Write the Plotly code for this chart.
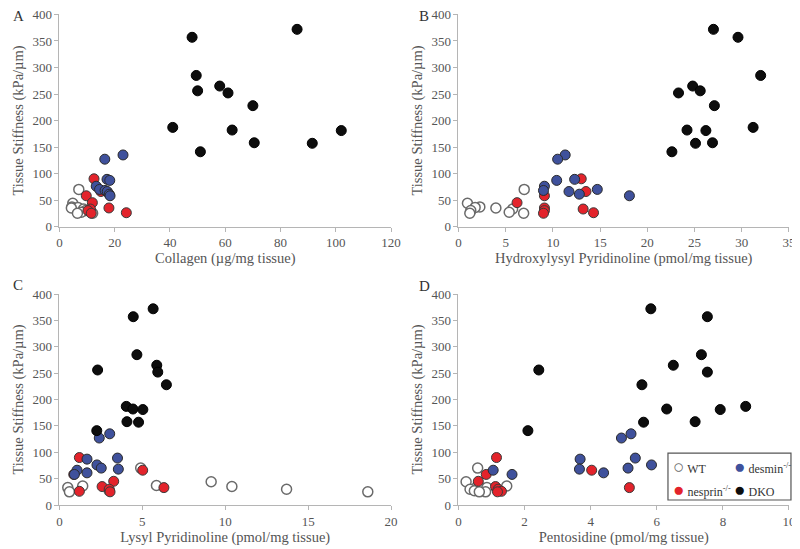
import plotly.graph_objects as go

# Rigidez (kPa/um) compartilhada pelos quatro paineis
wt_y = [70, 44, 37, 36, 35, 33, 30, 27, 25, 25]
nesprin_y = [90, 66, 58, 45, 35, 33, 30, 26, 25]
desmin_y = [135, 127, 89, 87, 76, 70, 68, 66, 61, 58]
dko_y = [372, 357, 285, 265, 256, 252, 228, 187, 182, 181, 158, 157, 141]

# A - Colageno (ug/mg tissue)
wt_a = [7.0, 4.8, 4.5, 6.7, 4.3, 8.7, 9.5, 7.9, 12.0, 6.5]
nesprin_a = [12.5, 15.0, 9.7, 11.9, 17.9, 11.2, 10.3, 24.2, 11.5]
desmin_a = [23.0, 16.4, 17.2, 18.2, 13.3, 14.5, 16.5, 17.3, 18.0, 18.3]
dko_a = [86, 48, 49.5, 58, 50, 61, 70, 41, 62.5, 102, 70.5, 91.5, 51]

# B - Hydroxylysyl Pyridinoline (pmol/mg tissue)
wt_b = [6.96, 0.95, 2.26, 1.76, 3.96, 5.73, 1.3, 5.37, 6.9, 1.2]
nesprin_b = [13.0, 13.5, 9.1, 6.2, 9.1, 13.2, 9.1, 14.3, 9.0]
desmin_b = [11.3, 10.5, 12.3, 10.4, 9.1, 14.7, 9.0, 11.7, 12.8, 18.1]
dko_b = [27, 29.6, 32, 24.8, 25.6, 23.3, 27.1, 31.2, 24.2, 26.2, 26.9, 25.1, 22.6]

# C - Lysyl Pyridinoline (pmol/mg tissue)
wt_c = [4.9, 9.15, 5.85, 1.4, 10.4, 0.5, 13.7, 3.0, 0.6, 18.6]
nesprin_c = [1.2, 5.02, 0.86, 3.27, 2.57, 6.3, 3.0, 1.2, 3.05]
desmin_c = [3.03, 2.4, 3.5, 1.66, 2.26, 2.52, 3.55, 1.06, 1.66, 0.9]
dko_c = [5.65, 4.45, 4.67, 5.87, 2.3, 5.93, 6.45, 4.03, 4.43, 5.03, 4.07, 4.77, 2.25]

# D - Pentosidine (pmol/mg tissue)
wt_d = [0.58, 0.23, 0.58, 1.46, 0.63, 0.86, 0.35, 0.48, 0.82, 0.63]
nesprin_d = [1.15, 4.03, 0.84, 0.6, 1.12, 5.17, 1.2, 1.3, 1.18]
desmin_d = [5.22, 4.93, 5.35, 3.68, 5.84, 5.13, 3.66, 1.05, 4.39, 1.62]
dko_d = [5.82, 7.53, 7.35, 6.5, 2.43, 7.53, 5.55, 8.69, 6.3, 7.92, 7.16, 5.6, 2.1]

paineis = [
    ("A", "Collagen (µg/mg tissue)", 120, 20, wt_a, nesprin_a, desmin_a, dko_a),
    ("B", "Hydroxylysyl Pyridinoline (pmol/mg tissue)", 35, 5, wt_b, nesprin_b, desmin_b, dko_b),
    ("C", "Lysyl Pyridinoline (pmol/mg tissue)", 20, 5, wt_c, nesprin_c, desmin_c, dko_c),
    ("D", "Pentosidine (pmol/mg tissue)", 10, 2, wt_d, nesprin_d, desmin_d, dko_d),
]

# a pagina html tem 8px de margem no body -> figura 792x541
LARGURA, ALTURA = 792, 541
dom_x = [[0.065, 0.4836], [0.5688, 0.9861], [0.065, 0.4836], [0.5688, 0.9861]]
dom_y = [[0.5961, 0.988], [0.5961, 0.988], [0.0813, 0.4713], [0.0813, 0.4713]]
pos_letra = [(0.004, 0.986), (0.5165, 0.986), (0.004, 0.488), (0.5165, 0.486)]

# nome, rigidez, cor, borda
grupos = [
    ("WT", wt_y, "white", "#6a6a6a"),
    ("nesprin<sup>-/-</sup>", nesprin_y, "#e3232b", "#3a3a3a"),
    ("desmin<sup>-/-</sup>", desmin_y, "#3f519c", "#2a2a2a"),
    ("DKO", dko_y, "#0d0d0d", "#000000"),
]

FONTE = "Liberation Serif, Times New Roman, serif"
CINZA = "#555555"
fig = go.Figure()
layout = {}
anotacoes = []

for i, (letra, titulo_x, xmax, passo, wx, nx, dx, kx) in enumerate(paineis):
    sufixo = "" if i == 0 else str(i + 1)
    xs = {"WT": wx, "desmin<sup>-/-</sup>": dx, "nesprin<sup>-/-</sup>": nx, "DKO": kx}
    for nome, ys, cor, borda in grupos:
        fig.add_trace(go.Scatter(
            x=xs[nome], y=ys,
            mode="markers",
            name=nome,
            showlegend=False,
            xaxis="x" + sufixo, yaxis="y" + sufixo,
            marker=dict(size=10, color=cor,
                        line=dict(color=borda, width=1.5 if nome == "WT" else 1)),
        ))
    eixo_comum = dict(
        showgrid=False, zeroline=False, automargin=False,
        showline=True, linecolor="#b5b5b5", linewidth=1,
        ticks="outside", ticklen=4, tickcolor="#b5b5b5",
        ticklabeloverflow="allow",
        tickfont=dict(family=FONTE, size=13, color=CINZA),
    )
    layout["xaxis" + sufixo] = dict(
        eixo_comum,
        domain=dom_x[i], anchor="y" + sufixo,
        range=[0, xmax], dtick=passo, tick0=0,
        title=dict(text=titulo_x, font=dict(family=FONTE, size=14.5, color=CINZA),
                   standoff=2),
    )
    layout["yaxis" + sufixo] = dict(
        eixo_comum,
        domain=dom_y[i], anchor="x" + sufixo,
        range=[0, 400], dtick=50,
        title=dict(text="Tissue Stiffness (kPa/µm)",
                   font=dict(family=FONTE, size=14.5, color=CINZA), standoff=5),
    )
    anotacoes.append(dict(
        text=letra, xref="paper", yref="paper",
        x=pos_letra[i][0], y=pos_letra[i][1],
        xanchor="left", yanchor="middle", showarrow=False,
        font=dict(family=FONTE, size=15, color="#333333"),
    ))

# legenda em duas colunas dentro da caixa do painel D (simbolo colado ao texto)
pos_legenda = [(0.8365, 0.1534), (0.8365, 0.1091), (0.9147, 0.1534), (0.9147, 0.1091)]
simbolos = ["○", "●", "●", "●"]
for (nome, _, cor, borda), (lx, ly), simb in zip(grupos, pos_legenda, simbolos):
    cor_simb = borda if nome == "WT" else cor
    anotacoes.append(dict(
        text=f"<span style='color:{cor_simb};font-size:19px'>{simb}</span> {nome}",
        xref="paper", yref="paper", x=lx, y=ly,
        xanchor="left", yanchor="middle", showarrow=False,
        font=dict(family=FONTE, size=12, color="#333333"),
    ))

fig.update_layout(
    **layout,
    annotations=anotacoes,
    shapes=[dict(type="rect", xref="paper", yref="paper",
                 x0=0.8333, x1=0.9886, y0=0.0906, y1=0.1774,
                 line=dict(color="#555555", width=1.2), fillcolor="white",
                 layer="below")],
    width=LARGURA, height=ALTURA,
    margin=dict(l=0, r=0, t=0, b=0),
    paper_bgcolor="white", plot_bgcolor="white",
    showlegend=False,
)

fig.write_html("out.html")
